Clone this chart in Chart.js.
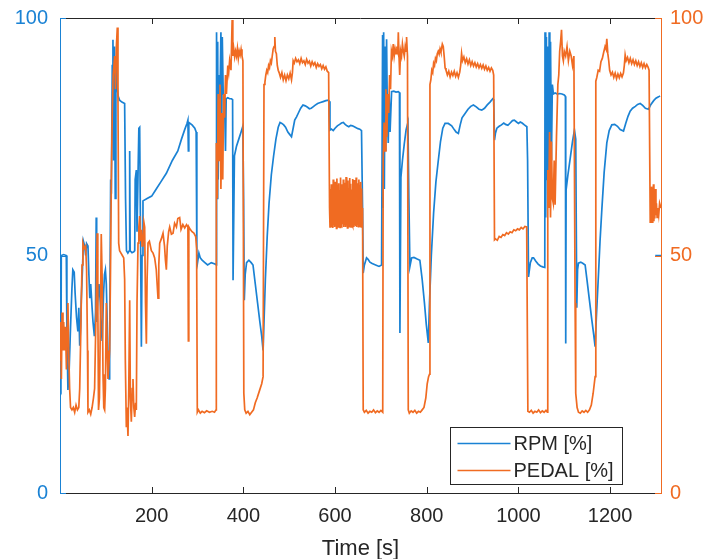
<!DOCTYPE html>
<html><head><meta charset="utf-8">
<script src="https://cdn.jsdelivr.net/npm/chart.js@4.4.1/dist/chart.umd.min.js"></script>
<style>html,body{margin:0;padding:0;background:#fff;}#wrap{width:703px;height:559px;}</style>
</head><body><div id="wrap"><canvas id="c" width="703" height="559"></canvas></div>
<script>
const xTicks = [200, 400, 600, 800, 1000, 1200];
const yTicks = [0, 50, 100];
const seriesNames = ['RPM [%]', 'PEDAL [%]'];
const xTitle = 'Time [s]';

// [time s, value %]
const rpmSeries = [[0,22],[2,21.5],[2.8,50],[8,50.2],[13.7,50],[15,35],[17.3,21.7],[20,26],[23,35],[26,43],[28,47],[31,46.5],[33,42],[36,37],[39,34],[41,39],[43,31],[45,35],[46.4,40.6],[49,47],[51,53],[53.7,52],[56,50],[58,52.5],[61,52],[63,46],[65,41],[67,44],[70,39],[72,36],[75,33],[77.5,38],[79,58],[80,36],[82,40],[85,44],[88,40],[90,35],[92,32],[95,42],[97,46],[99,47],[101,44],[103,36],[105,25],[107,24],[108.3,30],[110.5,66],[112,63],[114,90],[115.5,95.4],[117,70],[119,94],[120.5,62],[122,92],[124,86],[127,83.5],[130,82.7],[135,82.3],[141,82],[143,62],[145,51],[148,50.5],[151,51],[152,72],[153,51],[157,50.6],[161,50.8],[163,51],[164,66],[166.5,68],[168,55],[172,76.8],[173.8,77],[175,62],[177.5,30.8],[179,50],[181,61.5],[190,62],[200,62.5],[210,64],[220,65.5],[232,67.3],[245,70],[257,72],[265,74.5],[272,76.5],[277,77.8],[279,78.5],[280,72],[281,78],[288,77.5],[294,76.8],[297,76],[298.5,50],[300,48.5],[303,50.5],[306,49.5],[310,49],[316,48.5],[322,48],[330,48.5],[338,48.2],[341,48],
[341.5,97],[342.5,62],[344,95],[345,66],[347,88],[349,83],[351,97],[352.5,70],[354,96],[356,84],[358.7,83.7],[361,72],[362.5,83],[366,83.2],[370,83],[374,83],[376.5,82.8],[377.5,44.8],[380.5,71],[385,73],[390,74.5],[395,76],[398.8,77.2],[400.5,62],[402,40.6],[404,46],[407,48.5],[412,49],[417,48.5],[421,48],[426,44],[431,40],[436,36],[440,33],[443,30],[445,36],[448,45],[452,54],[456,61],[461,67],[466,71],[471,74.5],[476,77],[480,78],[484,77.8],[488,77.5],[492,77],[497,76],[501,75.5],[505,75],[509,77],[512,78.5],[516,79.2],[520,80],[525,81],[530,81.7],[535,81.5],[540,81.2],[544,80.9],[548,81],[552,81.3],[556,81.6],[562,82],[568,82.2],[574,82.4],[580,82.6],[585,82.7],[587,82.5],[588.9,76.4],[592,76.6],[596,76.3],[600,76.8],[605,77.3],[610,77.6],[614,77.9],[618,78],[622,77.6],[626,77.3],[630,77.1],[634,77.4],[638,77.3],[642,77.1],[646,76.9],[650,76.7],[654,76.6],[657.7,76.3],[660,60],[661.4,46.3],[664,48],[668.7,49.5],[672,49.2],[676,48.6],[681,48.3],[686,48.1],[691,47.9],[696,47.7],[701.5,48],
[703.7,96.4],[704.5,60],[706,97],[707.5,64],[709,94],[710.5,72],[712.4,95.5],[714,80],[716,73.7],[718,84],[720,76],[723.3,84.5],[728,84.6],[733,84.4],[737.8,84.5],[740.5,84.3],[741.5,33.7],[743.7,66.5],[747,70],[751,73.5],[755,76.5],[759,78],[761,62],[763.3,47.7],[767,49.5],[772,49.6],[778,49.3],[785,49],[790,45],[795,40],[799,35.5],[803.4,31.6],[806,40],[810,50],[815,59],[820,65.5],[825.2,70],[830,74],[835,76.8],[839.9,77.8],[847,77.8],[854.4,77.3],[860,76.5],[864,76],[869,75.7],[873,77.5],[877,79],[883.6,79.9],[890,80.8],[896,81.4],[901.8,81.7],[908,81.3],[914,80.8],[920,80.6],[926,81],[932,81.7],[938,82.3],[944,83],[946,82.8],[947.8,74.3],[950,75.8],[953,76.8],[958,77.2],[963,77.5],[968,77.9],[972,77.6],[977,77.4],[982,77.9],[987,78.4],[991,78.5],[996,78.1],[1000,77.8],[1004,78.1],[1008,77.9],[1013,77.5],[1018.4,77.1],[1020,70],[1022,45.5],[1026,48.5],[1030,49.5],[1033,49.5],[1038,48.8],[1043,48.2],[1048,47.8],[1053,47.6],[1057.5,47.5],
[1058,97],[1059.5,58],[1061,96],[1062.5,66],[1064,94],[1065.5,68],[1067,97],[1068.5,72],[1070,95],[1072,70],[1074,86],[1076.3,84],[1080,84.2],[1085,84],[1090,84.1],[1095,84],[1100,83.8],[1102.5,83.5],[1103.2,31.5],[1104,63.8],[1108,67],[1113,70.5],[1118,74],[1122.2,76.4],[1125,74.5],[1127.3,39],[1129,47],[1130.9,48.4],[1136,48.6],[1141,48.3],[1145.5,48],[1150,44.5],[1155,40.5],[1160,36.5],[1164,33.5],[1167.3,30.8],[1170,37],[1174.6,46],[1178,53],[1181.9,59.6],[1187,67.5],[1192.8,73.7],[1198,76.3],[1203.7,77.5],[1210,77.6],[1216,77.2],[1222,76.5],[1229.2,76.2],[1234,77.8],[1239,79.3],[1243.7,80.4],[1249,81],[1255,81.4],[1260,81.8],[1265.6,82],[1271,81.6],[1277,81],[1283.8,80.8],[1289,81.8],[1295,82.6],[1300,83.1],[1305.7,83.4],[1309,83.6],[1309,null],[1298.4,50],[1311,50]];

const pedalSeries = [[0,28],[1.5,36],[3,24],[4.5,38],[6.5,30],[8,36],[10,30],[12,35],[14,26],[17.3,40],[19,30],[21,22],[23,18],[26,17.5],[29,18],[32,17],[35,18.5],[38,17.5],[41,18],[43,22],[45,32],[46.4,40],[48,48],[50,52.6],[53,51.5],[56,52],[58,47],[60,30],[61,17],[64,17.5],[67,16.6],[70,18],[73,20],[75.5,22],[77,30],[79,40],[81,54.7],[82.5,40],[84,17.5],[86,20],[88,35],[90,54.5],[92,45],[93.8,25],[95.5,18],[97.4,17.5],[99,22],[101,40],[103,30],[104.7,24],[106,26],[108.3,30],[110,45],[112,66],[114,80],[116,88],[119.2,92],[121,85],[123,94],[125,98],[126.5,82],[128,52.6],[130,51],[133,50.5],[136,50],[139,49.5],[141,45],[142.5,28],[144.7,14],[146,18],[148.3,12],[150,22],[152,40.6],[153.5,20],[155.6,15],[157.5,22],[159.2,24],[161,18],[162.9,16],[165,19],[166.5,17.5],[168,40],[170.2,52.6],[172,56],[173.8,58.3],[175.5,53],[177.5,55.4],[179,52],[181,52.6],[183,57],[184.7,56],[186.5,40],[188.4,31.4],[190,45],[192,52.6],[195,53],[199.3,51],[203,50.5],[206.5,49.5],[210,47],[213.8,41],[215.5,48],[217.5,52.6],[221,53.5],[224.7,54.7],[228,52],[230,49],[232,47],[234,52],[237,55],[239.3,56],[243,54.5],[246.6,54.7],[250,56.8],[254,56],[257,57.8],[261,58],[264,55.5],[268,56.5],[272,55.8],[276,56.5],[279,56],[280,32],[281,56],[284,55.5],[288,55],[292,54.7],[296,54],[298,51.5],[299.5,17],[302,17.5],[306,16.8],[310,17.2],[315,16.9],[320,17.3],[326,17],[332,17.2],[337,17],[340.4,17.5],
[341,73.7],[343,62],[345,84],[347,70],[349,86],[351,64],[353,80],[355,66],[357,84],[359,79],[361,88],[363,84],[366,90],[368,88.5],[370,91],[373,89],[375.5,99.6],[377,92],[379,93.5],[381,91.8],[383,93],[385,92],[387,93.6],[389,91.5],[391,93],[393,92.2],[395,93.4],[397,92],[399,91],[401,21],[403,17.5],[406,16.8],[410,17.2],[414,16.5],[418,17],[422,17.5],[426,19],[430,20],[435,21.5],[440,23],[443,24.5],
[445,86],[447,86.5],[449,88],[451,89],[453,88.5],[455,90],[457,89.5],[459,91],[461,90.5],[463,92],[465,93.5],[467,94],[468.6,96],[470,93],[472,92.5],[474,90],[476,89],[478,88.5],[481,87.5],[484,88.5],[487,87],[490,88],[493,86.8],[496,88],[499,87.2],[502,88.4],[505,87],[507,88.5],[508.6,91],[511,90.5],[514,91.5],[517,90.8],[520,91.2],[523,90.4],[526,91.5],[529,90.6],[532,91],[535,90.2],[538,91.3],[541,90.5],[544,90.9],[547,89.9],[550,90.8],[553,90.1],[556,90.6],[559,89.6],[562,90.4],[565,89.8],[568,90.2],[571,89.3],[574,90],[577,89.2],[580,89.7],[583,88.8],[586,88.5],[588,60],
[589,56],[590,64],[591,56.5],[592,65],[593,56],[594,63],[595,55.8],[596,66],[597,56.4],[598,64.5],[599,56],[600,65.5],[601,56.2],[602,63.5],[603,55.7],[604,66.2],[605,56.3],[606,64.8],[607,56],[608,65.2],[609,56.5],[610,63.8],[611,55.9],[612,66.4],[613,56.2],[614,65],[615,56.1],[616,64],[617,56.6],[618,66],[619,56],[620,65.3],[621,56.4],[622,63.6],[623,56],[624,66.5],[625,56.3],[626,64.6],[627,55.8],[628,65.8],[629,56.5],[630,64.2],[631,56.1],[632,66.3],[633,56.4],[634,65.1],[635,56],[636,63.9],[637,56.6],[638,66.1],[639,56.2],[640,64.7],[641,56],[642,65.9],[643,56.5],[644,64.3],[645,56.2],[646,66.4],[647,56],[648,65.2],[649,56.4],[650,64],[651,56.1],[652,66],[653,56.5],[654,64.9],[655,56.2],[656,65.5],[657,56],[658,64.1],[659,56.3],[660,60],
[661.4,17.5],[664,17],[668,17.4],[672,16.8],[676,17.2],[680,17],[684,17.5],[688,16.9],[692,17.3],[696,17],[700,17.4],[704,17],
[705,70],[707,78],[709,72],[711,85],[713,75],[715,84],[717,80],[719,88],[721,85],[723,93],[725,92],[727,94.5],[729,92],[731,93.5],[733,92.5],[735,94],[737,93],[738,97],[739.5,92],[741,88],[743,93],[745,92],[747,94.5],[749,93],[751,92],[753,94],[755,93],[756,96],[758,92],[759.7,17.5],
[762,16.8],[766,17.3],[770,17],[774,17.4],[778,16.8],[782,17.2],[786,17],[790,17.5],[794,18],[798,20],[801,23],[804,24.5],[806,25],
[807,86],[809,87],[811,89],[813,88.5],[815,90.5],[817,90],[819,91.5],[821,91],[823,92.5],[825,93],[827,92.4],[829,93.5],[831,92.8],[834,94.5],[836,94],[838,92],[840,89.5],[842,89],[845,88],[848,88.8],[851,87.6],[854,88.6],[857,87.9],[860,88.8],[863,87.7],[866,88.5],[869,87.5],[872,88.6],[874,90],[876,92.5],[878,91],[881,91.8],[884,90.6],[887,91.4],[890,90.3],[893,91.2],[896,90],[899,90.8],[902,89.9],[905,90.6],[908,89.7],[911,90.4],[914,89.5],[917,90.2],[920,89.4],[923,90.1],[926,89.2],[929,89.9],[932,89],[935,89.6],[938,88.8],[941,89.5],[944,89],[946,88],
[947.8,53.3],[950,53.5],[954,53.2],[958,54],[962,53.8],[966,54.4],[970,54.2],[974,54.8],[978,54.5],[982,55],[986,54.8],[990,55.4],[994,55.2],[998,55.6],[1002,55.4],[1006,55.9],[1010,55.6],[1014,56.1],[1018,56],
[1020.6,17.2],[1024,17],[1028,17.4],[1032,16.8],[1036,17.2],[1040,17],[1044,17.5],[1048,16.9],[1052,17.3],[1056,17],[1060,17.4],[1063,17],
[1064,68],[1066,60],[1068,76],[1070,58],[1072,74],[1074,62],[1076,61],[1078,70],[1080,60.7],[1083,75],[1086,86],[1088,88],[1090,93],[1092,95],[1094,97.5],[1096,92],[1098,91],[1100,93],[1103,92],[1106,94],[1109,91],[1112,93],[1115,92],[1118,90],[1121,92],[1123.6,40],
[1125,21],[1128,18],[1131,17],[1135,16.8],[1139,17.3],[1143,17],[1147,17.4],[1151,17],[1155,17.5],[1159,18.5],[1163,21],[1167.3,24.5],
[1168.8,86.7],[1171,87.5],[1174,89],[1177,88.8],[1180,90.8],[1183,91.5],[1186,92.8],[1189,94],[1191,93.5],[1192.8,95.6],[1195,92.5],[1197,91],[1199,89],[1202,88],[1205,88.6],[1208,87.5],[1211,88.4],[1214,87.2],[1217,88.2],[1220,87.4],[1223,88.3],[1226,87.6],[1229,88.4],[1231,90],[1232.8,92.2],[1235,91],[1238,91.7],[1241,90.6],[1244,91.5],[1247,90.4],[1250,91.2],[1253,90.2],[1256,91],[1259,90],[1262,90.8],[1265,89.8],[1268,90.6],[1271,89.6],[1274,90.4],[1277,89.5],[1280,90.2],[1283,89.6],[1285,89],
[1287.5,57],[1288.5,63],[1289.5,57.5],[1290.5,64.5],[1291.5,57],[1292.5,62],[1293.5,58],[1294.5,65],[1295.5,57.2],[1296.5,63.5],[1297.5,57.8],[1298.5,64],[1300,58.5],[1301,61],[1302.5,58],[1304,60],[1306,58.5],[1308,61],[1311,60]];

const BLUE = '#1a82d4', ORANGE = '#f06b22', AX = '#262626';
const FONT = "'Liberation Sans', Arial, sans-serif";

const toXY = s => s.map(p => ({x: p[0], y: p[1]}));
const noPad = s => { s.paddingTop = 0; s.paddingBottom = 0; s.paddingLeft = 0; s.paddingRight = 0; };

const decor = {
  id: 'decor',
  afterDraw(chart) {
    const {ctx, chartArea: a, scales} = chart;
    const x = scales.x, y = scales.y, y1 = scales.y1;
    ctx.save();
    ctx.lineWidth = 1;
    ctx.strokeStyle = AX;
    ctx.beginPath();
    ctx.moveTo(a.left, Math.round(a.top) + 0.5);
    ctx.lineTo(a.right, Math.round(a.top) + 0.5);
    xTicks.forEach(v => {
      const px = Math.round(x.getPixelForValue(v)) + 0.5;
      ctx.moveTo(px, a.bottom); ctx.lineTo(px, a.bottom - 6);
      ctx.moveTo(px, a.top); ctx.lineTo(px, a.top + 6);
    });
    ctx.stroke();
    ctx.strokeStyle = BLUE;
    ctx.beginPath();
    yTicks.forEach(v => {
      const py = Math.round(y.getPixelForValue(v)) + 0.5;
      ctx.moveTo(a.left, py); ctx.lineTo(a.left + 6, py);
    });
    ctx.stroke();
    ctx.strokeStyle = ORANGE;
    ctx.beginPath();
    yTicks.forEach(v => {
      const py = Math.round(y1.getPixelForValue(v)) + 0.5;
      ctx.moveTo(a.right, py); ctx.lineTo(a.right - 6, py);
    });
    ctx.stroke();

    // legend box
    const bw = 172, bh = 57;
    const bx = Math.round(a.right - 39 - bw) + 0.5;
    const by = Math.round(a.bottom - 9 - bh) + 0.5;
    ctx.fillStyle = '#fff';
    ctx.fillRect(bx, by, bw, bh);
    ctx.strokeStyle = AX;
    ctx.strokeRect(bx, by, bw, bh);
    const cols = [BLUE, ORANGE];
    ctx.font = '20px ' + FONT;
    ctx.textBaseline = 'middle';
    ctx.textAlign = 'left';
    seriesNames.forEach((n, i) => {
      const ly = by + 16 + i * 27;
      ctx.strokeStyle = cols[i];
      ctx.lineWidth = 1.7;
      ctx.beginPath(); ctx.moveTo(bx + 7, ly); ctx.lineTo(bx + 60, ly); ctx.stroke();
      ctx.fillStyle = AX;
      ctx.fillText(n, bx + 63, ly + 1);
    });
    ctx.restore();
  }
};

new Chart(document.getElementById('c'), {
  type: 'line',
  data: {
    datasets: [
      {label: seriesNames[0], data: toXY(rpmSeries), yAxisID: 'y', borderColor: BLUE, borderWidth: 1.7, pointRadius: 0, tension: 0, spanGaps: false, order: 2},
      {label: seriesNames[1], data: toXY(pedalSeries), yAxisID: 'y1', borderColor: ORANGE, borderWidth: 1.7, pointRadius: 0, tension: 0, order: 1}
    ]
  },
  options: {
    responsive: false, animation: false, devicePixelRatio: 1,
    layout: {padding: {top: 18, left: 0, right: 0, bottom: 0}},
    plugins: {legend: {display: false}, tooltip: {enabled: false}},
    scales: {
      x: {
        type: 'linear', min: 0, max: 1311,
        grid: {display: false, drawTicks: false},
        border: {display: true, color: AX, width: 1},
        afterBuildTicks: s => { s.ticks = xTicks.map(v => ({value: v})); },
        afterFit: s => { s.height = 66; noPad(s); },
        ticks: {color: AX, font: {family: FONT, size: 20}, padding: 11, maxRotation: 0, autoSkip: false, callback: v => String(v)},
        title: {display: true, text: xTitle, color: AX, font: {family: FONT, size: 22, lineHeight: 0.9}, padding: {top: 0, bottom: 0}}
      },
      y: {
        position: 'left', min: 0, max: 100,
        grid: {display: false, drawTicks: false},
        border: {display: true, color: BLUE, width: 1},
        afterBuildTicks: s => { s.ticks = yTicks.map(v => ({value: v})); },
        afterFit: s => { s.width = 60; noPad(s); },
        ticks: {color: BLUE, font: {family: FONT, size: 20}, padding: 12, callback: v => String(v)}
      },
      y1: {
        position: 'right', min: 0, max: 100,
        grid: {display: false, drawTicks: false},
        border: {display: true, color: ORANGE, width: 1},
        afterBuildTicks: s => { s.ticks = yTicks.map(v => ({value: v})); },
        afterFit: s => { s.width = 42; noPad(s); },
        ticks: {color: ORANGE, font: {family: FONT, size: 20}, padding: 9, callback: v => String(v)}
      }
    }
  },
  plugins: [decor]
});
</script>
</body></html>
